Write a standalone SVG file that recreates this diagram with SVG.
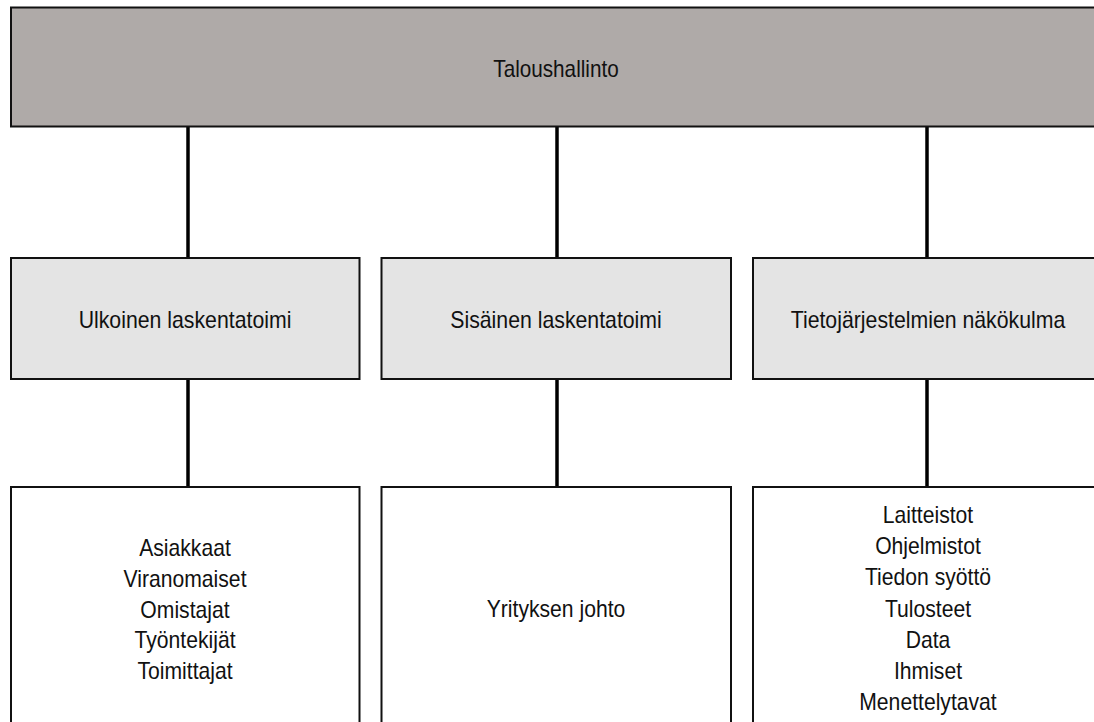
<svg xmlns="http://www.w3.org/2000/svg" width="1094" height="722" viewBox="0 0 1094 722">
<style>
.box{stroke:#111;stroke-width:2}
.top{fill:#afaaa8}
.mid{fill:#e4e4e4}
.bot{fill:#fff}
.conn{stroke:#000;stroke-width:3.5;fill:none}
text{font-family:"Liberation Sans",Arial,sans-serif;font-size:23px;fill:#111;text-anchor:middle}
</style>
<rect width="1094" height="722" fill="#fff"/>
<g id="connectors">
<line class="conn" x1="188" y1="127" x2="188" y2="258"/>
<line class="conn" x1="557" y1="127" x2="557" y2="258"/>
<line class="conn" x1="927" y1="127" x2="927" y2="258"/>
<line class="conn" x1="188" y1="379" x2="188" y2="487"/>
<line class="conn" x1="557" y1="379" x2="557" y2="487"/>
<line class="conn" x1="927" y1="379" x2="927" y2="487"/>
</g>
<g id="taloushallinto">
<rect class="box top" x="11" y="7.5" width="1100" height="119"/>
<text transform="translate(556,77) scale(0.9,1)">Taloushallinto</text>
</g>
<g id="ulkoinen">
<rect class="box mid" x="11" y="258" width="348.5" height="121"/>
<text transform="translate(185,328) scale(0.925,1)">Ulkoinen laskentatoimi</text>
</g>
<g id="sisainen">
<rect class="box mid" x="381.5" y="258" width="349.5" height="121"/>
<text transform="translate(556,328) scale(0.925,1)">Sisäinen laskentatoimi</text>
</g>
<g id="tietojarjestelmat">
<rect class="box mid" x="753" y="258" width="360" height="121"/>
<text transform="translate(928,328) scale(0.925,1)">Tietojärjestelmien näkökulma</text>
</g>
<g id="sidosryhmat">
<rect class="box bot" x="11" y="487" width="348.5" height="260"/>
<text transform="translate(185,556) scale(0.92,1)">Asiakkaat</text>
<text transform="translate(185,586.8) scale(0.92,1)">Viranomaiset</text>
<text transform="translate(185,617.5) scale(0.92,1)">Omistajat</text>
<text transform="translate(185,648.2) scale(0.92,1)">Työntekijät</text>
<text transform="translate(185,679) scale(0.92,1)">Toimittajat</text>
</g>
<g id="johto">
<rect class="box bot" x="381.5" y="487" width="349.5" height="260"/>
<text transform="translate(556,617) scale(0.92,1)">Yrityksen johto</text>
</g>
<g id="osat">
<rect class="box bot" x="753" y="487" width="360" height="260"/>
<text transform="translate(928,523) scale(0.92,1)">Laitteistot</text>
<text transform="translate(928,554.2) scale(0.92,1)">Ohjelmistot</text>
<text transform="translate(928,585.3) scale(0.92,1)">Tiedon syöttö</text>
<text transform="translate(928,616.5) scale(0.92,1)">Tulosteet</text>
<text transform="translate(928,647.7) scale(0.92,1)">Data</text>
<text transform="translate(928,678.8) scale(0.92,1)">Ihmiset</text>
<text transform="translate(928,710) scale(0.92,1)">Menettelytavat</text>
</g>
</svg>
